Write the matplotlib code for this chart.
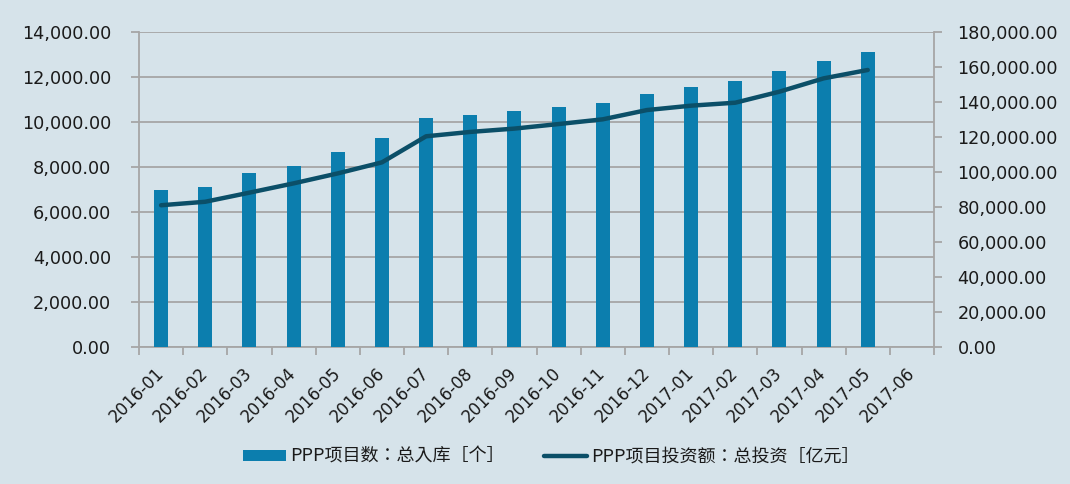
import matplotlib
matplotlib.use("Agg")
import matplotlib.pyplot as plt
from matplotlib.ticker import FuncFormatter, MultipleLocator, FixedLocator
import numpy as np

plt.rcParams['font.family'] = ['DejaVu Sans', 'Noto Sans CJK TC']

categories = ["2016-01", "2016-02", "2016-03", "2016-04", "2016-05", "2016-06",
              "2016-07", "2016-08", "2016-09", "2016-10", "2016-11", "2016-12",
              "2017-01", "2017-02", "2017-03", "2017-04", "2017-05", "2017-06"]
project_count = [6997, 7110, 7721, 8043, 8675, 9285, 10160, 10313, 10471, 10685,
                 10828, 11260, 11557, 11807, 12287, 12700, 13132]
total_invest = [81000, 83000, 88200, 93500, 99200, 105500, 120400, 122900, 124800,
                127400, 130100, 135400, 137900, 139600, 145900, 153500, 158300]

bar_label = "PPP项目数：总入库［个］"
line_label = "PPP项目投资额：总投资［亿元］"

bg = "#D6E3EA"
bar_color = "#0C7EAE"
line_color = "#0B4F68"
grid_color = "#A6A6A6"
text_color = "#1A1A1A"

fig = plt.figure(figsize=(10.70, 4.84), dpi=100, facecolor=bg)
ax = fig.add_axes([139/1070, 1-347/484, (934-139)/1070, (347-32)/484])
ax.set_facecolor(bg)

x = np.arange(len(categories))
xb = x[:len(project_count)]
bars = ax.bar(xb, project_count, width=0.32, color=bar_color, label=bar_label, zorder=3)
ax.set_xlim(-0.5, len(categories) - 0.5)
ax.set_ylim(0, 14000)
ax.yaxis.set_major_locator(MultipleLocator(2000))
ax.yaxis.set_major_formatter(FuncFormatter(lambda v, p: f"{v:,.2f}"))
ax.grid(axis='y', color=grid_color, linewidth=1.3, zorder=0)

ax.set_xticks(x)
ax.set_xticklabels(categories, rotation=45, ha='right', va='center',
                   rotation_mode='anchor', fontsize=12, color=text_color)
ax.tick_params(axis='x', length=0, pad=17)
ax.xaxis.set_minor_locator(FixedLocator(np.arange(-0.5, len(categories), 1.0)))
ax.tick_params(axis='x', which='minor', length=6, color=grid_color, width=1.3)
ax.tick_params(axis='y', length=6, color=grid_color, width=1.3, labelsize=12.7,
               pad=14, labelcolor=text_color)

for s in ['top', 'right']:
    ax.spines[s].set_visible(False)
for s in ['left', 'bottom']:
    ax.spines[s].set_color(grid_color)
    ax.spines[s].set_linewidth(1.3)

ax2 = ax.twinx()
line, = ax2.plot(xb, total_invest, color=line_color, linewidth=3.2, label=line_label,
                 solid_capstyle='round', zorder=4)
ax2.set_ylim(0, 180000)
ax2.yaxis.set_major_locator(MultipleLocator(20000))
ax2.yaxis.set_major_formatter(FuncFormatter(lambda v, p: f"{v:,.2f}"))
ax2.tick_params(axis='y', length=6, color=grid_color, width=1.3, labelsize=12.7,
                pad=11, labelcolor=text_color)
for s in ['top', 'left', 'bottom']:
    ax2.spines[s].set_visible(False)
ax2.spines['right'].set_color(grid_color)
ax2.spines['right'].set_linewidth(1.3)

leg = fig.legend([bars, line], [bar_label, line_label], loc='center',
                 bbox_to_anchor=(0.515, 1-457/484),
                 ncol=2, frameon=False, handlelength=2.4, handleheight=0.5,
                 columnspacing=2.2, handletextpad=0.2,
                 prop={'family': ['Noto Sans CJK TC', 'DejaVu Sans'], 'size': 13})
for t in leg.get_texts():
    t.set_color(text_color)

fig.savefig("out.png", dpi=100, facecolor=bg)
